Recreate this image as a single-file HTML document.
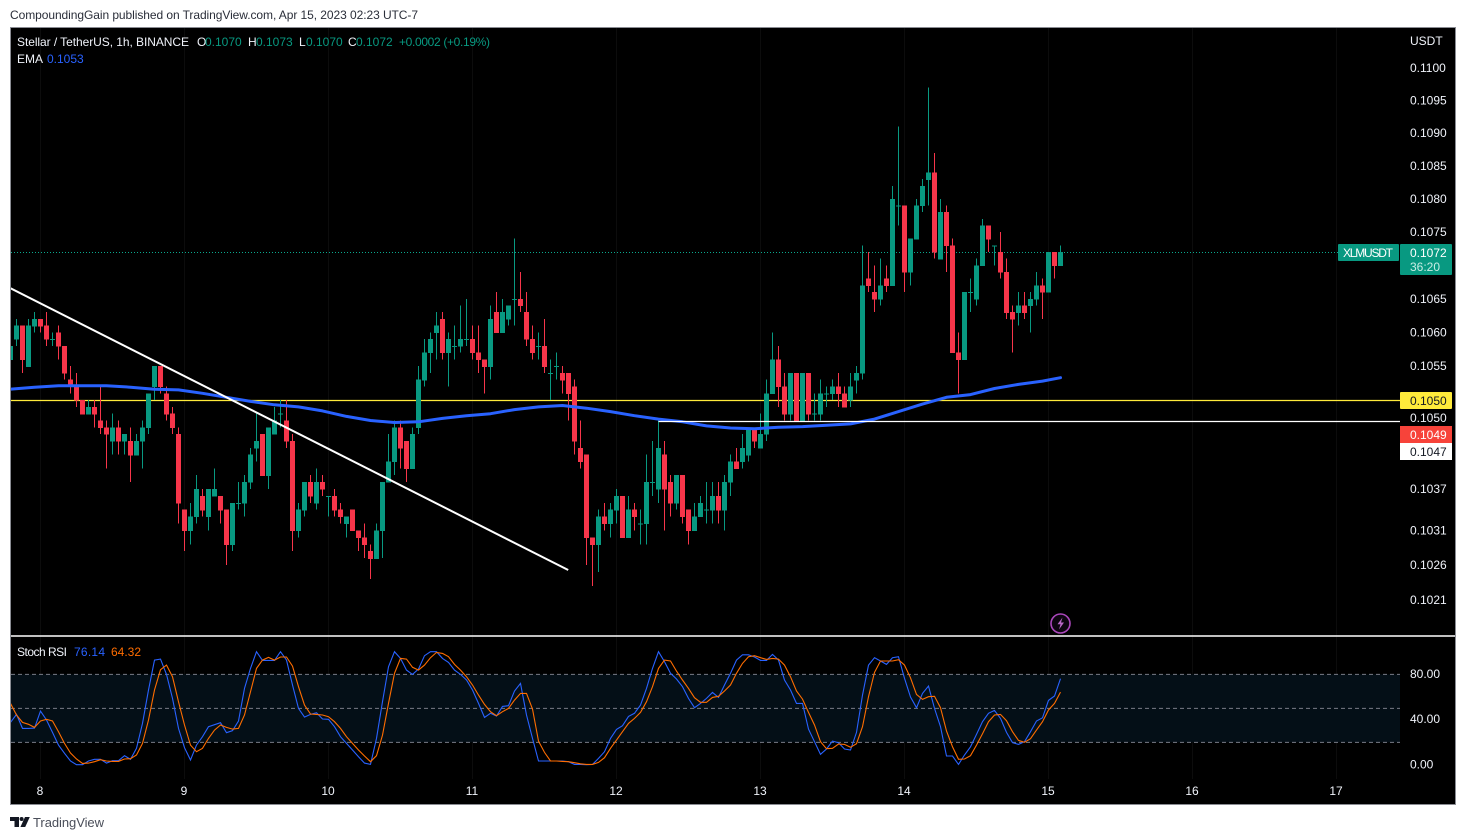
<!DOCTYPE html>
<html lang="en">
<head>
<meta charset="utf-8">
<title>XLMUSDT chart</title>
<style>
html,body{margin:0;padding:0;background:#fff;width:1466px;height:840px;overflow:hidden}
svg{display:block}
text{font-family:"Liberation Sans",sans-serif;font-size:12px}
</style>
</head>
<body>
<svg id="chart" xmlns="http://www.w3.org/2000/svg" width="1466" height="840" viewBox="0 0 1466 840">
  <defs>
    <clipPath id="main-clip"><rect x="11" y="28" width="1389" height="608"/></clipPath>
    <clipPath id="osc-clip"><rect x="11" y="637" width="1389" height="167"/></clipPath>
  </defs>
  <rect x="0" y="0" width="1466" height="840" fill="#ffffff"/>
  <text x="10" y="19" fill="#2a2e39" textLength="408">CompoundingGain published on TradingView.com, Apr 15, 2023 02:23 UTC-7</text>
  <rect x="10.5" y="27.5" width="1445" height="777" fill="#000000" stroke="#8a8c93" stroke-width="1"/>

  <g id="grid"></g>
  <g id="guides" clip-path="url(#main-clip)"></g>
  <g id="candles" clip-path="url(#main-clip)"></g>
  <g id="overlays" clip-path="url(#main-clip)"></g>

  <line x1="11" y1="636" x2="1455" y2="636" stroke="#ffffff" stroke-width="1.4"/>
  <g id="osc" clip-path="url(#osc-clip)"></g>

  <g id="price-axis"></g>
  <g id="osc-axis"></g>
  <g id="time-axis"></g>

  <text x="1410" y="45" fill="#f0f3fa">USDT</text>

  <rect x="1338" y="244" width="61" height="17" rx="1" fill="#089981"/>
  <text x="1343" y="257" fill="#ffffff" textLength="50">XLMUSDT</text>
  <rect x="1400" y="244" width="52" height="31" rx="1" fill="#089981"/>
  <text x="1410" y="257" fill="#ffffff">0.1072</text>
  <text x="1410" y="271" fill="#c8ece4">36:20</text>

  <rect x="1400" y="392" width="52" height="17" rx="1" fill="#ffeb3b"/>
  <text x="1410" y="405" fill="#131722">0.1050</text>
  <text x="1410" y="422" fill="#f0f3fa">0.1050</text>
  <rect x="1400" y="426" width="52" height="17" fill="#f7433a"/>
  <text x="1410" y="439" fill="#ffffff">0.1049</text>
  <rect x="1400" y="443" width="52" height="17" fill="#ffffff"/>
  <text x="1410" y="456" fill="#131722">0.1047</text>

  <g>
    <text x="17" y="46" fill="#f0f3fa" textLength="172">Stellar / TetherUS, 1h, BINANCE</text>
    <text x="197" y="46" fill="#f0f3fa">O</text>
    <text x="205" y="46" fill="#089981">0.1070</text>
    <text x="248" y="46" fill="#f0f3fa">H</text>
    <text x="256" y="46" fill="#089981">0.1073</text>
    <text x="299" y="46" fill="#f0f3fa">L</text>
    <text x="306" y="46" fill="#089981">0.1070</text>
    <text x="348" y="46" fill="#f0f3fa">C</text>
    <text x="356" y="46" fill="#089981">0.1072</text>
    <text x="399" y="46" fill="#089981" textLength="91">+0.0002 (+0.19%)</text>
    <text x="17" y="63" fill="#f0f3fa">EMA</text>
    <text x="47" y="63" fill="#2962ff">0.1053</text>
  </g>
  <g>
    <text x="17" y="656" fill="#f0f3fa" textLength="50">Stoch RSI</text>
    <text x="74" y="656" fill="#2962ff" textLength="31">76.14</text>
    <text x="111" y="656" fill="#ff6d00" textLength="30">64.32</text>
  </g>

  <g>
    <circle cx="1060.5" cy="623.5" r="9.5" fill="#0d0510" stroke="#ab47bc" stroke-width="1.6"/>
    <path d="M1062.5 617.5l-5 6.8h3l-1.5 5.2 5-7h-3z" fill="#ba68c8"/>
  </g>

  <g>
    <path d="M10 817h9v10h-4.5v-6H10z" fill="#131722"/>
    <circle cx="21.6" cy="819" r="2" fill="#131722"/>
    <path d="M25 817h4.8l-4.6 10h-4.8z" fill="#131722"/>
    <text x="33" y="827" fill="#4a4e59" style="font-size:13px" textLength="71">TradingView</text>
  </g>
</svg>

<script>
// Hourly candle prices, oldest first.
const opens = [
.1056,.1059,.1061,.1055,.1061,.1062,.1061,.1059,.1060,.1058,
.1053,.1052,.1050,.1048,.1049,.1047,.1046,.1044,.1046,.1044,
.1044,.1042,.1044,.1046,.1052,.1055,.1051,.1048,.1045,.1034,
.1031,.1033,.1036,.1033,.1036,.1036,.1034,.1029,.1035,.1035,
.1038,.1043,.1045,.1039,.1045,.1048,.1047,.1044,.1031,.1034,
.1038,.1035,.1038,.1036,.1036,.1034,.1032,.1034,.1031,.1030,
.1028,.1027,.1031,.1038,.1041,.1046,.1044,.1040,.1046,.1053,
.1057,.1060,.1062,.1057,.1058,.1058,.1059,.1059,.1057,.1056,
.1055,.1063,.1060,.1062,.1065,.1065,.1063,.1059,.1058,.1058,
.1054,.1055,.1054,.1054,.1052,.1043,.1042,.1030,.1029,.1033,
.1032,.1034,.1036,.1030,.1034,.1032,.1032,.1038,.1037,.1042,
.1038,.1035,.1039,.1034,.1031,.1033,.1034,.1034,.1036,.1034,
.1038,.1041,.1041,.1042,.1046,.1043,.1045,.1051,.1056,.1052,
.1048,.1054,.1047,.1054,.1048,.1048,.1051,.1051,.1052,.1051,
.1050,.1053,.1054,.1068,.1066,.1065,.1068,.1067,.1079,.1079,
.1069,.1074,.1079,.1083,.1084,.1071,.1078,.1073,.1057,.1056,
.1066,.1065,.1070,.1076,.1073,.1072,.1069,.1063,.1063,.1064,
.1064,.1065,.1067,.1066,.1072,.1070];
const highs = [
.1059,.1062,.1061,.1062,.1063,.1062,.1063,.1060,.1061,.1058,
.1055,.1054,.1050,.1050,.1050,.1052,.1047,.1048,.1047,.1045,
.1046,.1045,.1047,.1051,.1055,.1055,.1052,.1049,.1046,.1034,
.1035,.1039,.1037,.1037,.1040,.1036,.1034,.1035,.1038,.1039,
.1043,.1048,.1045,.1046,.1049,.1050,.1050,.1045,.1035,.1038,
.1039,.1040,.1039,.1036,.1037,.1035,.1033,.1034,.1031,.1032,
.1029,.1032,.1038,.1045,.1047,.1047,.1044,.1046,.1055,.1059,
.1060,.1063,.1063,.1060,.1061,.1064,.1065,.1061,.1061,.1056,
.1064,.1066,.1065,.1064,.1074,.1069,.1066,.1061,.1060,.1062,
.1056,.1057,.1055,.1054,.1053,.1047,.1042,.1030,.1034,.1035,
.1035,.1037,.1036,.1036,.1035,.1034,.1042,.1044,.1047,.1044,
.1039,.1039,.1039,.1034,.1035,.1036,.1038,.1038,.1038,.1039,
.1042,.1043,.1045,.1046,.1046,.1048,.1053,.1060,.1058,.1054,
.1054,.1054,.1054,.1054,.1051,.1053,.1052,.1053,.1054,.1052,
.1054,.1055,.1073,.1072,.1070,.1071,.1070,.1082,.1091,.1079,
.1074,.1080,.1083,.1097,.1087,.1080,.1079,.1074,.1060,.1066,
.1068,.1071,.1077,.1076,.1073,.1075,.1071,.1064,.1066,.1066,
.1066,.1069,.1068,.1072,.1072,.1073];
const lows = [
.1055,.1058,.1054,.1055,.1060,.1060,.1058,.1058,.1056,.1053,
.1051,.1049,.1048,.1048,.1046,.1045,.1040,.1042,.1042,.1042,
.1038,.1042,.1040,.1045,.1050,.1051,.1047,.1045,.1032,.1028,
.1029,.1032,.1033,.1031,.1036,.1032,.1026,.1028,.1034,.1033,
.1037,.1041,.1039,.1037,.1045,.1046,.1043,.1028,.1030,.1033,
.1035,.1034,.1036,.1033,.1033,.1032,.1030,.1031,.1028,.1027,
.1024,.1027,.1027,.1038,.1039,.1040,.1038,.1040,.1045,.1052,
.1054,.1056,.1056,.1052,.1056,.1057,.1058,.1056,.1054,.1051,
.1053,.1060,.1060,.1061,.1061,.1063,.1058,.1056,.1056,.1054,
.1050,.1053,.1051,.1047,.1042,.1040,.1026,.1023,.1025,.1031,
.1030,.1032,.1030,.1030,.1031,.1029,.1029,.1036,.1035,.1031,
.1033,.1034,.1032,.1029,.1031,.1033,.1032,.1032,.1032,.1031,
.1036,.1040,.1040,.1041,.1043,.1043,.1044,.1051,.1049,.1047,
.1047,.1047,.1047,.1047,.1047,.1047,.1049,.1050,.1049,.1049,
.1049,.1051,.1053,.1066,.1063,.1064,.1066,.1067,.1076,.1066,
.1067,.1074,.1078,.1079,.1071,.1071,.1069,.1057,.1051,.1056,
.1063,.1064,.1070,.1072,.1070,.1068,.1062,.1057,.1061,.1062,
.1060,.1064,.1062,.1066,.1068,.1070];
const closes = [
.1058,.1061,.1056,.1061,.1062,.1061,.1059,.1059,.1058,.1054,
.1052,.1050,.1048,.1049,.1048,.1046,.1045,.1046,.1044,.1045,
.1042,.1044,.1046,.1051,.1055,.1052,.1048,.1046,.1035,.1031,
.1033,.1037,.1034,.1037,.1037,.1034,.1029,.1035,.1035,.1038,
.1042,.1044,.1039,.1046,.1047,.1048,.1044,.1031,.1034,.1038,
.1036,.1038,.1037,.1036,.1034,.1033,.1033,.1031,.1030,.1029,
.1027,.1031,.1038,.1041,.1046,.1043,.1040,.1045,.1053,.1057,
.1059,.1061,.1057,.1059,.1058,.1059,.1059,.1057,.1056,.1055,
.1062,.1060,.1063,.1064,.1065,.1064,.1059,.1057,.1058,.1055,
.1054,.1055,.1053,.1051,.1044,.1041,.1030,.1029,.1033,.1032,
.1034,.1036,.1030,.1034,.1033,.1032,.1038,.1038,.1043,.1037,
.1035,.1039,.1033,.1031,.1033,.1035,.1034,.1036,.1034,.1038,
.1041,.1040,.1043,.1046,.1044,.1045,.1051,.1056,.1052,.1048,
.1054,.1047,.1054,.1048,.1048,.1051,.1051,.1052,.1051,.1049,
.1052,.1054,.1067,.1067,.1065,.1067,.1067,.1080,.1079,.1069,
.1074,.1079,.1082,.1084,.1072,.1078,.1073,.1057,.1056,.1066,
.1066,.1070,.1076,.1074,.1073,.1069,.1063,.1062,.1064,.1063,
.1065,.1067,.1066,.1072,.1070,.1072];

// EMA readings, taken every fourth bar plus the last bar.
const emaBars = [0,4,8,12,16,20,24,28,32,36,40,44,48,52,56,60,64,68,72,76,80,84,88,92,96,100,104,108,112,116,120,124,128,132,136,140,144,148,152,156,160,164,168,172,175];
const emaValues = [.10516,.10519,.10521,.10521,.10521,.10519,.10516,.10515,.10510,.10504,.10498,.10493,.10490,.10484,.10476,.10470,.10467,.10468,.10473,.10477,.10480,.10486,.10490,.10492,.10488,.10483,.10477,.10472,.10468,.10462,.10459,.10458,.10460,.10461,.10463,.10465,.10472,.10483,.10494,.10504,.10508,.10517,.10523,.10528,.10533];

// Stochastic RSI, one value per bar.
const stochK = [
37.6,44.7,32.3,32.3,32.6,47.6,39.7,28.8,17.6,10.3,
3.5,.3,.3,3.5,5,5,1.7,3.8,3.8,8.2,
5,14.7,36.7,66.2,92.6,93.5,80,58.8,32.3,15.3,
4.4,17.6,25,33.8,35.6,37.3,28.5,30.3,38.8,67.6,
85.3,100,92.3,92.3,92.3,100,92.6,70.6,50,42.3,
44.7,46.1,40.6,40.3,33.8,25,19.1,13.2,7.3,1.7,
.5,23.5,55.9,86.7,100,94.1,83.8,80,84.7,96.5,
100,100,94.1,90.6,83.8,80,75,66.2,54.4,42,
45.6,43.2,51.7,52.3,65.3,72,44.1,23.5,3.5,3.5,
3.5,3.5,3.5,2.9,.5,.5,.3,.5,5.8,11.7,
23.5,31.4,34.7,42.9,45.6,52.9,67.6,85.3,100,91.2,
80.9,75.9,69.1,58.8,50.6,54.4,58.8,64.1,59.7,70.6,
80.9,92.6,97.3,97.3,95.3,92.3,92.3,97.6,92.6,75,
66.2,54.4,54.4,31.7,20.6,9.4,14.1,21.1,19.7,14.1,
13.2,28.8,61.7,88.2,94.7,91.8,88.8,94.7,95.6,76.5,
60,50.6,63.2,69.7,50,33.8,7.9,7.9,.5,8.8,
16.1,27,38.2,45.6,48.2,41.1,28.8,19.7,18.2,20.6,
29.4,38.8,41.7,57,60.9,76.14];
const stochD = [
54.4,44.1,37.6,35.9,33.2,38.8,40.3,38.8,29.4,19.1,
10.6,5.3,1.4,1.7,2.9,4.7,3.5,3.2,3.2,5.3,
5.6,8.8,19.1,39.7,66.2,84.1,88.2,77.9,55.9,35.3,
17.6,11.7,14.7,23.5,30.8,35.3,33.2,31.7,32.3,44.1,
64.7,85.3,92.6,95,92.6,95.3,95.3,87.3,69.1,52.9,
45,44.7,44.1,42.6,38.2,32.3,25,19.1,13.2,7.9,
2.9,8.2,26.4,54.4,80.9,94.1,93.5,86.2,83.8,88.2,
94.7,99.4,98.5,95.6,88.8,83.8,77.9,70.6,61.7,53.5,
47,43.5,47,50,57.3,63.2,63.2,49.4,21.1,11.1,
3.5,3.5,3.2,2.9,2,1.1,.5,.5,2.3,6.4,
14.7,22,29.4,36.7,41.1,46.4,55.9,69.1,85.3,92.6,
91.8,82.9,75,67.6,59.4,55.3,55.3,59.7,60.6,65.3,
70.6,80.9,89.7,95.6,96.5,94.7,93.2,94.1,93.5,88.2,
77.9,65.3,58.2,46.4,35.3,20.6,14.4,14.7,18.5,18.2,
15.6,18.8,33.8,60.3,81.7,91.8,91.8,91.8,92.9,88.2,
77,62.3,57.9,60.3,60.6,50.6,30,16.1,5,5.3,
8.2,17.6,27.6,38.2,44.1,44.7,39.1,29.4,21.7,20,
23.2,30.8,38.2,48.5,54.4,64.32];

// Axis labels.
const priceTicks = [0.11,0.1095,0.109,0.1085,0.108,0.1075,0.1065,0.106,0.1055,0.1037,0.1031,0.1026,0.1021];
const stochTicks = [80,40,0];
const stochBands = [80,50,20];
const dayLabels = ['8','9','10','11','12','13','14','15','16','17'];
const lastPrice = 0.1072;
const supportPrice = 0.1050;
const resistancePrice = 0.1047;
const resistanceStartBar = 108;
const trendBars = [-0.05,92.95];
const trendPrices = [0.10666,0.10253];

// Axis functions.
const SVGNS = 'http://www.w3.org/2000/svg';
function xOf(bar){ return 10.5 + 6 * bar; }
function yOf(price){ return 68 + 7138 * Math.log(0.11 / price); }
function oscY(value){ return 765 - 1.133 * value; }
function make(parent, tag, attrs){
  const el = document.createElementNS(SVGNS, tag);
  for (const key in attrs) el.setAttribute(key, attrs[key]);
  parent.appendChild(el);
  return el;
}
const gridG = document.getElementById('grid');
const guidesG = document.getElementById('guides');
const candlesG = document.getElementById('candles');
const overlaysG = document.getElementById('overlays');
const oscG = document.getElementById('osc');
const priceAxisG = document.getElementById('price-axis');
const oscAxisG = document.getElementById('osc-axis');
const timeAxisG = document.getElementById('time-axis');

// Faint day grid and time labels.
dayLabels.forEach(function(label, i){
  const bar = 5 + 24 * i;
  const line = make(gridG, 'line', {x1:xOf(bar), x2:xOf(bar), y1:28, y2:779, stroke:'#0c0c0c', 'stroke-width':1});
  
  
  const t = make(timeAxisG, 'text', {x:xOf(bar) - 0.5, y:795, fill:'#f0f3fa', 'text-anchor':'middle'});
  
  
  t.textContent = label;
});

// Price labels.
priceTicks.forEach(function(price){
  const t = make(priceAxisG, 'text', {x:1410, y:yOf(price) + 4, fill:'#f0f3fa'});
  
  
  t.textContent = price.toFixed(4);
});

// Price levels.
const lastLine = make(guidesG, 'line', {x1:11, x2:1400, y1:Math.round(yOf(lastPrice)) + 0.5, y2:Math.round(yOf(lastPrice)) + 0.5, stroke:'#0aa88e', 'stroke-width':1, 'stroke-dasharray':'1 2'});


const supportLine = make(guidesG, 'line', {x1:11, x2:1400, y1:Math.floor(yOf(supportPrice)) + 0.5, y2:Math.floor(yOf(supportPrice)) + 0.5, stroke:'#ffeb3b', 'stroke-width':1.2});



// Candles.
opens.forEach(function(open, i){
  const close = closes[i];
  const up = close >= open;
  const color = up ? '#089981' : '#f7354a';
  const g = make(candlesG, 'g', {'shape-rendering':'crispEdges'});
  
  
  const cx = xOf(i);
  const top = yOf(Math.max(open, close));
  const bottom = yOf(Math.min(open, close));
  const wick = make(g, 'rect', {x:cx - 0.5, y:yOf(highs[i]), width:1, height:Math.max(yOf(lows[i]) - yOf(highs[i]), 1), fill:color});
  
  
  const body = make(g, 'rect', {x:cx - 2.5, y:top, width:5, height:Math.max(bottom - top + 0.6, 1), fill:color});
  
  
});

// EMA line.
const emaPoints = emaValues.map(function(v, i){ return xOf(emaBars[i]) + ',' + yOf(v).toFixed(1); }).join(' ');
const emaLine = make(overlaysG, 'polyline', {points:emaPoints, fill:'none', stroke:'#2962ff', 'stroke-width':3, 'stroke-linejoin':'round', 'stroke-linecap':'round'});



// Drawings.
const resistanceLine = make(overlaysG, 'line', {x1:xOf(resistanceStartBar), x2:1400, y1:421.5, y2:421.5, stroke:'#ffffff', 'stroke-width':1.2});


resistanceLine.setAttribute('y1', Math.round(yOf(resistancePrice)) + 1.5);
resistanceLine.setAttribute('y2', Math.round(yOf(resistancePrice)) + 1.5);
const trendLine = make(overlaysG, 'line', {x1:xOf(trendBars[0]), y1:yOf(trendPrices[0]), x2:xOf(trendBars[1]), y2:yOf(trendPrices[1]), stroke:'#ffffff', 'stroke-width':2});



// Stoch RSI pane.
const band = make(oscG, 'rect', {x:11, y:oscY(stochBands[0]), width:1389, height:oscY(stochBands[2]) - oscY(stochBands[0]), fill:'#040f17'});


stochBands.forEach(function(level){
  const line = make(oscG, 'line', {x1:11, x2:1400, y1:oscY(level), y2:oscY(level), stroke:'#787b86', 'stroke-width':1, 'stroke-dasharray':'4 3'});
  
  
});
const kPoints = stochK.map(function(v, i){ return xOf(i) + ',' + oscY(v).toFixed(1); }).join(' ');
const dPoints = stochD.map(function(v, i){ return xOf(i) + ',' + oscY(v).toFixed(1); }).join(' ');
const kLine = make(oscG, 'polyline', {points:kPoints, fill:'none', stroke:'#2962ff', 'stroke-width':1.1});


const dLine = make(oscG, 'polyline', {points:dPoints, fill:'none', stroke:'#ff6d00', 'stroke-width':1.1});


stochTicks.forEach(function(v){
  const t = make(oscAxisG, 'text', {x:1410, y:oscY(v) + 3.5, fill:'#f0f3fa'});
  
  
  t.textContent = v.toFixed(2);
});
</script>
</body>
</html>
